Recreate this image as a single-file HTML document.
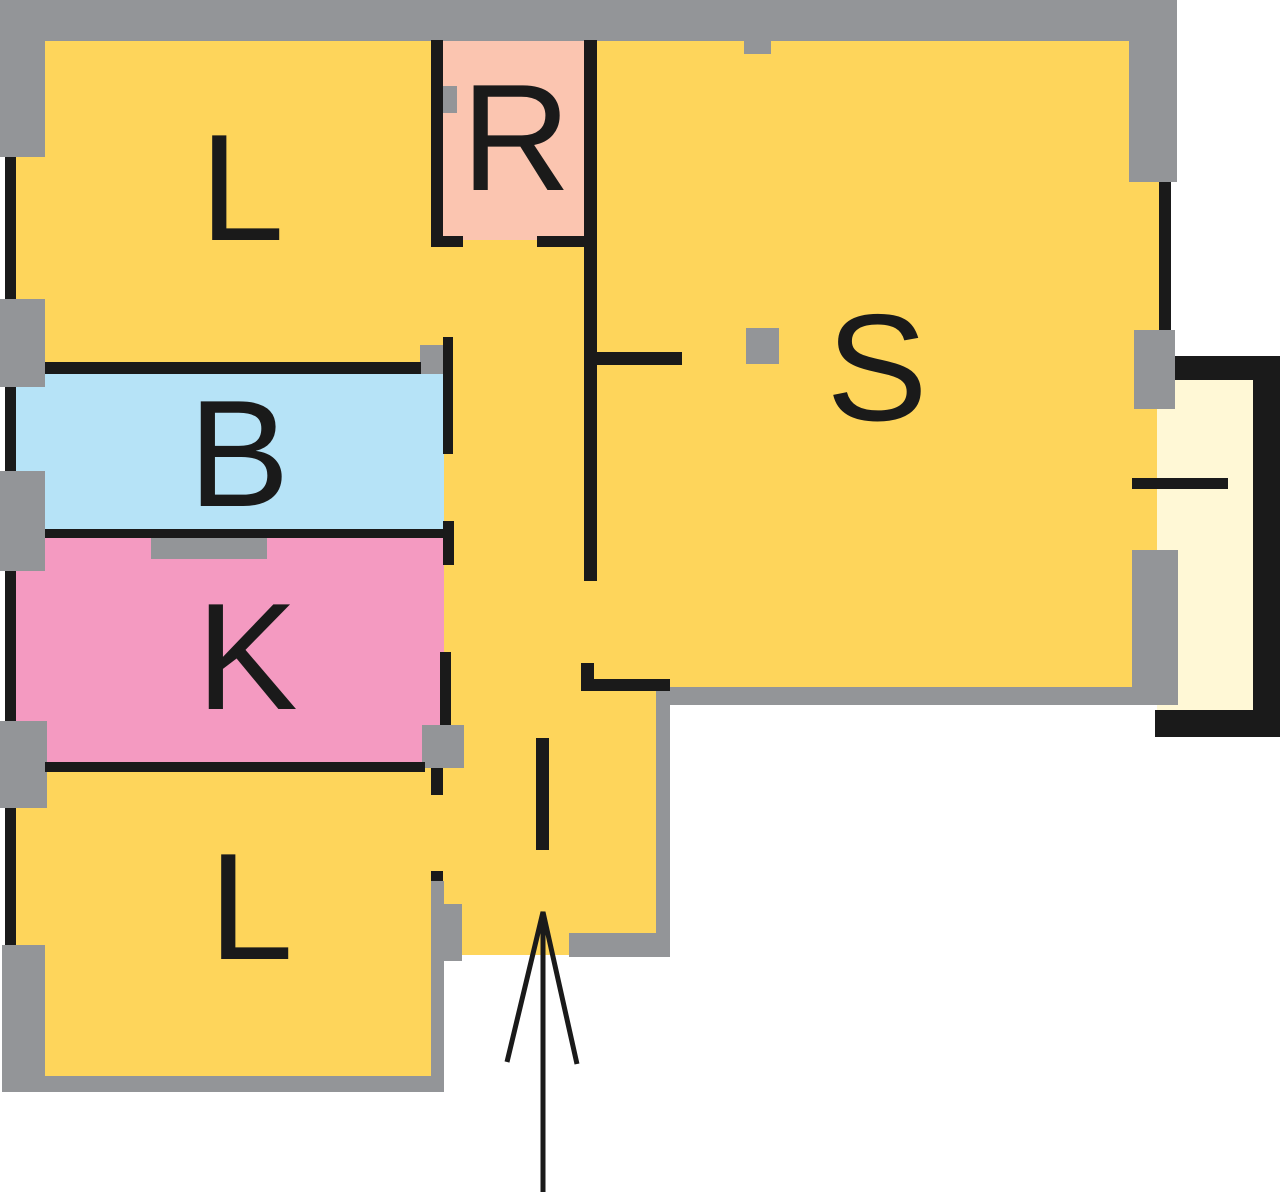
<!DOCTYPE html>
<html><head><style>html,body{margin:0;padding:0;background:#fff}svg{display:block}</style></head>
<body>
<svg width="1280" height="1192" viewBox="0 0 1280 1192" xmlns="http://www.w3.org/2000/svg">
<!-- yellow fills -->
<rect x="16" y="40" width="1145" height="650" fill="#FED55B"/>
<rect x="440" y="680" width="222" height="275" fill="#FED55B"/>
<rect x="16" y="760" width="428" height="325" fill="#FED55B"/>
<!-- room fills -->
<rect x="443" y="40" width="141" height="200" fill="#FBC5B0"/>
<rect x="16" y="372" width="428" height="160" fill="#B6E3F7"/>
<rect x="16" y="534" width="428" height="232" fill="#F49AC1"/>
<rect x="1157" y="378" width="98" height="332" fill="#FFF8D6"/>
<!-- left black line -->
<rect x="5" y="150" width="11" height="800" fill="#1a1a1a"/>
<!-- gray walls -->
<g fill="#939598">
<rect x="0" y="0" width="1177" height="41"/>
<rect x="0" y="0" width="45" height="157"/>
<rect x="0" y="299" width="45" height="88"/>
<rect x="0" y="471" width="45" height="100"/>
<rect x="0" y="721" width="47" height="87"/>
<rect x="2" y="945" width="43" height="147"/>
<rect x="2" y="1076" width="442" height="16"/>
<rect x="431" y="881" width="13" height="211"/>
<rect x="435" y="904" width="27" height="57"/>
<rect x="744" y="40" width="27" height="14"/>
<rect x="1129" y="0" width="48" height="182"/>
<rect x="1134" y="330" width="41" height="79"/>
<rect x="1132" y="550" width="46" height="155"/>
<rect x="656" y="687" width="522" height="18"/>
<rect x="656" y="687" width="14" height="270"/>
<rect x="569" y="933" width="101" height="24"/>
<rect x="746" y="328" width="33" height="36"/>
<rect x="420" y="345" width="31" height="29"/>
<rect x="151" y="533" width="116" height="26"/>
<rect x="422" y="725" width="42" height="43"/>
<rect x="432" y="86" width="25" height="27"/>
</g>
<!-- black walls -->
<g fill="#1a1a1a">
<rect x="1159" y="182" width="12" height="148"/>
<rect x="1175" y="356" width="105" height="24"/>
<rect x="1253" y="356" width="27" height="381"/>
<rect x="1155" y="710" width="125" height="27"/>
<rect x="1132" y="478" width="96" height="11"/>
<rect x="431" y="40" width="12" height="207"/>
<rect x="431" y="236" width="32" height="11"/>
<rect x="537" y="236" width="54" height="11"/>
<rect x="584" y="40" width="13" height="541"/>
<rect x="594" y="352" width="88" height="13"/>
<rect x="45" y="362" width="376" height="12"/>
<rect x="443" y="337" width="10" height="117"/>
<rect x="45" y="529" width="400" height="9"/>
<rect x="443" y="521" width="11" height="44"/>
<rect x="440" y="652" width="11" height="73"/>
<rect x="45" y="762" width="380" height="10"/>
<rect x="431" y="768" width="12" height="27"/>
<rect x="431" y="871" width="12" height="10"/>
<rect x="581" y="663" width="13" height="28"/>
<rect x="581" y="679" width="89" height="12"/>
<rect x="536" y="738" width="13" height="112"/>
</g>
<!-- arrow -->
<g stroke="#1a1a1a" stroke-width="5" fill="none">
<line x1="543" y1="912" x2="543" y2="1192"/>
<polyline points="507,1062 543,912 577,1064"/>
</g>
<!-- labels -->
<g font-family="Liberation Sans, sans-serif" fill="#1a1a1a" text-anchor="middle" font-size="152">
<text x="242" y="240">L</text>
<text x="516" y="190">R</text>
<text x="239" y="506">B</text>
<text x="247" y="709">K</text>
<text x="251" y="959">L</text>
<text x="877" y="420">S</text>
</g>
</svg>
</body></html>
